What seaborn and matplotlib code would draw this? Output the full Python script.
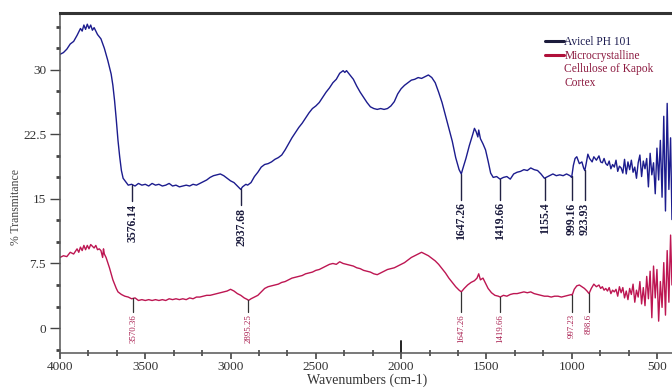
import numpy as np
import pandas as pd
import seaborn as sns
import matplotlib.pyplot as plt
from matplotlib.ticker import MultipleLocator, AutoMinorLocator

# FTIR spectra, values
avicel_wn = [4000, 3980, 3960, 3940, 3920, 3900, 3880, 3870, 3860, 3850, 3840, 3830, 3820, 3810, 3800,
             3790, 3780, 3760, 3740, 3720, 3700, 3690, 3680, 3670, 3660, 3650, 3640, 3630, 3615, 3600,
             3580, 3560, 3540, 3520, 3500, 3480, 3460, 3440, 3420, 3400, 3380, 3360, 3340, 3320, 3300,
             3280, 3260, 3240, 3220, 3200, 3180, 3160, 3140, 3120, 3100, 3080, 3060, 3040, 3020, 3000,
             2980, 2960, 2940, 2930, 2910, 2900, 2880, 2860, 2840, 2820, 2800, 2780, 2760, 2740, 2720,
             2700, 2680, 2660, 2640, 2620, 2600, 2580, 2560, 2540, 2520, 2500, 2480, 2460, 2440, 2420,
             2400, 2380, 2360, 2340, 2330, 2320, 2300, 2280, 2260, 2240, 2220, 2200, 2180, 2160, 2140,
             2120, 2100, 2080, 2060, 2040, 2020, 2000, 1980, 1960, 1940, 1920, 1900, 1880, 1860, 1840,
             1820, 1800, 1780, 1760, 1740, 1720, 1700, 1680, 1660, 1647, 1640, 1620, 1600, 1580, 1570,
             1560, 1550, 1545, 1535, 1520, 1505, 1490, 1475, 1460, 1440, 1420, 1400, 1380, 1360, 1340,
             1320, 1300, 1280, 1260, 1240, 1220, 1200, 1180, 1160, 1150, 1130, 1110, 1090, 1070, 1050,
             1030, 1010, 1000, 990, 980, 970, 955, 940, 930, 923, 915, 905, 895, 880, 870,
             855, 840, 830, 820, 810, 800, 790, 780, 770, 760, 750, 740, 730, 720, 710,
             700, 690, 680, 670, 660, 650, 640, 630, 620, 610, 600, 590, 580, 570, 560,
             550, 540, 530, 520, 510, 500, 490, 480, 470, 460, 450, 440, 430, 420, 412]
avicel_t = [31.8, 32.0, 32.4, 33.0, 33.3, 34.0, 34.8, 34.5, 35.2, 34.7, 35.3, 34.8, 35.2, 34.6, 34.9,
            34.5, 34.1, 33.6, 32.5, 31.1, 29.5, 28.2, 26.4, 24.2, 21.8, 19.9, 18.3, 17.4, 17.0, 16.6,
            16.7, 16.5, 16.8, 16.6, 16.7, 16.5, 16.8, 16.6, 16.7, 16.5, 16.6, 16.8, 16.5, 16.6, 16.4,
            16.5, 16.6, 16.5, 16.7, 16.6, 16.8, 17.0, 17.2, 17.5, 17.7, 17.8, 17.9, 17.7, 17.4, 17.1,
            16.9, 16.5, 16.1, 16.4, 16.7, 16.6, 16.9, 17.6, 18.1, 18.7, 19.0, 19.1, 19.3, 19.6, 19.8,
            20.1, 20.7, 21.4, 22.1, 22.7, 23.3, 23.8, 24.4, 25.0, 25.5, 25.8, 26.2, 26.8, 27.4, 27.9,
            28.5, 28.9, 29.6, 29.9, 29.7, 29.9, 29.4, 28.9, 28.1, 27.4, 26.8, 26.2, 25.7, 25.5, 25.4,
            25.5, 25.4, 25.5, 25.8, 26.3, 27.2, 27.8, 28.2, 28.5, 28.8, 28.9, 29.1, 29.0, 29.2, 29.4,
            29.1, 28.5, 27.4, 26.2, 24.7, 23.2, 21.7, 19.8, 18.4, 17.9, 18.4, 19.7, 21.2, 22.5, 23.2,
            22.8, 22.2, 23.0, 22.0, 21.4, 20.7, 19.4, 18.0, 17.5, 17.6, 17.3, 17.5, 17.6, 17.3, 17.9,
            18.1, 18.2, 18.4, 18.3, 18.6, 18.4, 18.3, 17.9, 17.4, 17.5, 17.7, 17.9, 17.7, 17.8, 17.7,
            17.9, 17.7, 17.5, 18.9, 19.7, 19.9, 19.1, 19.3, 18.6, 18.3, 19.1, 20.2, 19.7, 19.3, 19.9,
            19.5, 20.0, 19.3, 19.2, 19.7, 19.1, 18.9, 19.4, 18.5, 19.0, 18.7, 19.5, 18.2, 18.8, 18.6,
            18.0, 19.6, 17.9, 19.3, 18.4, 19.5, 18.1, 18.7, 17.4, 19.2, 20.1, 17.6, 19.4, 18.5, 19.7,
            16.4, 20.3, 17.8, 19.2, 15.6, 20.9, 17.2, 21.8, 15.2, 24.6, 13.6, 26.1, 16.1, 22.1, 12.6]

kapok_wn = [4000, 3980, 3960, 3940, 3920, 3900, 3890, 3880, 3870, 3860, 3850, 3840, 3830, 3820, 3800,
            3790, 3780, 3770, 3760, 3750, 3745, 3740, 3730, 3720, 3710, 3700, 3690, 3680, 3670, 3660,
            3640, 3620, 3600, 3580, 3560, 3540, 3520, 3500, 3480, 3460, 3440, 3420, 3400, 3380, 3360,
            3340, 3320, 3300, 3280, 3260, 3240, 3220, 3200, 3180, 3160, 3140, 3120, 3100, 3080, 3060,
            3040, 3020, 3000, 2980, 2960, 2940, 2920, 2900, 2895, 2880, 2860, 2840, 2820, 2800, 2780,
            2760, 2740, 2720, 2700, 2680, 2660, 2640, 2620, 2600, 2580, 2560, 2540, 2520, 2500, 2480,
            2460, 2440, 2420, 2400, 2380, 2360, 2340, 2320, 2300, 2280, 2260, 2240, 2220, 2200, 2180,
            2160, 2140, 2120, 2100, 2080, 2060, 2040, 2020, 2000, 1980, 1960, 1940, 1920, 1900, 1880,
            1860, 1840, 1820, 1800, 1780, 1760, 1740, 1720, 1700, 1680, 1660, 1647, 1630, 1610, 1590,
            1570, 1555, 1545, 1535, 1520, 1505, 1490, 1470, 1450, 1430, 1419, 1400, 1380, 1360, 1340,
            1320, 1300, 1280, 1260, 1240, 1220, 1200, 1180, 1160, 1140, 1120, 1100, 1080, 1060, 1040,
            1020, 1000, 997, 985, 970, 955, 940, 925, 910, 898, 885, 870, 855, 840, 830,
            820, 810, 800, 790, 780, 770, 760, 750, 740, 730, 720, 710, 700, 690, 680,
            670, 660, 650, 640, 630, 620, 610, 600, 590, 580, 570, 560, 550, 540, 530,
            520, 510, 500, 490, 480, 470, 460, 450, 440, 430, 420, 412]
kapok_t = [8.2, 8.4, 8.3, 8.8, 8.6, 9.2, 8.8, 9.4, 9.0, 9.6, 9.1, 9.6, 9.2, 9.7, 9.3,
           9.6, 9.1, 9.2, 9.0, 8.2, 9.2, 8.6, 8.2, 7.6, 7.0, 6.3, 5.6, 5.1, 4.6, 4.2,
           3.9, 3.7, 3.6, 3.4, 3.5, 3.2, 3.3, 3.2, 3.3, 3.2, 3.3, 3.2, 3.3, 3.2, 3.4,
           3.3, 3.4, 3.3, 3.4, 3.3, 3.5, 3.4, 3.6, 3.6, 3.7, 3.8, 3.8, 3.9, 4.0, 4.1,
           4.2, 4.3, 4.5, 4.3, 4.0, 3.8, 3.5, 3.3, 3.2, 3.4, 3.6, 3.8, 4.2, 4.6, 4.8,
           4.9, 5.0, 5.1, 5.3, 5.4, 5.6, 5.8, 5.9, 6.0, 6.1, 6.3, 6.4, 6.5, 6.7, 6.8,
           7.0, 7.2, 7.4, 7.5, 7.4, 7.7, 7.5, 7.4, 7.3, 7.2, 7.0, 6.9, 6.7, 6.6, 6.5,
           6.3, 6.2, 6.4, 6.6, 6.8, 6.9, 7.0, 7.2, 7.4, 7.6, 7.9, 8.2, 8.4, 8.6, 8.8,
           8.6, 8.4, 8.1, 7.8, 7.4, 6.9, 6.4, 5.8, 5.3, 4.8, 4.4, 4.2, 4.6, 5.0, 5.3,
           5.5, 5.8, 6.3, 5.6, 5.8, 5.2, 4.6, 4.1, 3.8, 3.7, 3.6, 3.8, 3.7, 3.9, 4.0,
           4.0, 4.1, 4.2, 4.1, 4.2, 4.0, 3.9, 3.8, 3.7, 3.7, 3.6, 3.7, 3.7, 3.6, 3.7,
           3.8, 3.9, 3.8, 4.5, 4.9, 5.0, 4.8, 4.6, 4.3, 4.0, 4.6, 5.1, 4.8, 5.0, 4.6,
           4.8, 4.4, 4.6, 4.3, 4.7, 4.0, 4.4, 4.2, 4.5, 3.7, 4.8, 4.1, 4.7, 3.5, 4.3,
           3.3, 4.6, 3.9, 5.1, 3.0, 4.4, 3.6, 5.4, 2.8, 4.7, 2.6, 6.0, 3.4, 6.6, 1.2,
           7.2, 3.5, 6.8, 0.8, 5.4, 2.4, 7.6, 1.5, 9.0, 3.0, 10.8, 5.0]

avicel_peaks = [3576.14, 2937.68, 1647.26, 1419.66, 1155.4, 999.16, 923.93]
avicel_peak_labels = ["3576.14", "2937.68", "1647.26", "1419.66", "1155.4", "999.16", "923.93"]
kapok_peaks = [3570.36, 2895.25, 1647.26, 1419.66, 997.23, 898.6]
kapok_peak_labels = ["3570.36", "2895.25", "1647.26", "1419.66", "997.23", "898.6"]

x_ticks = [4000, 3500, 3000, 2500, 2000, 1500, 1000, 500]
y_ticks = [0, 7.5, 15, 22.5, 30]
series_names = ["Avicel PH 101", "Microcrystalline"]
kapok_name_rest = "Cellulose of Kapok\nCortex"

blue = "#1c1c8e"
red = "#bd1652"

df = pd.concat([
    pd.DataFrame({"wn": avicel_wn, "T": avicel_t, "sample": series_names[0]}),
    pd.DataFrame({"wn": kapok_wn, "T": kapok_t, "sample": series_names[1]}),
])

sns.set_style("ticks")
plt.rcParams['font.family'] = ['Liberation Serif', 'DejaVu Serif']

fig = plt.figure(figsize=(6.72, 3.92), dpi=100)
ax = fig.add_axes([60 / 672, 1 - 353 / 392, 614 / 672, 340 / 392])

sns.lineplot(data=df, x="wn", y="T", hue="sample", palette=[blue, red],
             estimator=None, linewidth=1.0, ax=ax)

ax.set_xlim(4000, 400)
ax.set_ylim(-2.9, 36.6)
ax.set_xticks(x_ticks)
ax.set_xticklabels([str(t) for t in x_ticks])
ax.xaxis.set_minor_locator(AutoMinorLocator(3))
ax.set_yticks(y_ticks)
ax.set_yticklabels(["0", "7.5", "15", "22.5", "30"])
ax.yaxis.set_minor_locator(MultipleLocator(2.5))

ax.tick_params(axis='both', which='major', labelsize=9.5, colors='#444444', labelcolor='#333333')
ax.tick_params(axis='x', which='major', direction='out', length=4, width=1.2, pad=2)
ax.tick_params(axis='x', which='minor', direction='inout', length=4, width=1.2, color='#444444')
ax.tick_params(axis='y', which='major', direction='out', length=7, width=1.0, pad=3)
ax.tick_params(axis='y', which='minor', direction='out', length=3, width=2.0, color='#444444')

for side in ['left', 'bottom']:
    ax.spines[side].set_color('#555555')
    ax.spines[side].set_linewidth(1.1)
ax.spines['top'].set_visible(True)
ax.spines['top'].set_color('#333333')
ax.spines['top'].set_linewidth(2.2)
ax.spines['right'].set_visible(False)

# cursor mark at 2000
ax.axvline(2000, ymin=0, ymax=0.035, color='#222222', lw=1.4)

ax.set_xlabel("Wavenumbers (cm-1)", fontsize=10, color='#333333', labelpad=0)
ax.set_ylabel("% Transmitance", fontsize=8.5, color='#444444')
ax.yaxis.set_label_coords(-0.062, 0.43)

# peak markers
wn_a = np.array(avicel_wn)[::-1]
t_a = np.array(avicel_t)[::-1]
for p, lab in zip(avicel_peaks, avicel_peak_labels):
    yv = np.interp(p, wn_a, t_a)
    top = min(yv - 2.2, 14.6)
    ax.plot([p, p], [yv, top + 0.3], color='#222244', lw=1.0)
    ax.text(p, top, lab, rotation=90, ha='center', va='top', fontsize=8.5,
            fontweight='bold', color='#1a1a3c')

wn_k = np.array(kapok_wn)[::-1]
t_k = np.array(kapok_t)[::-1]
for p, lab in zip(kapok_peaks, kapok_peak_labels):
    yv = np.interp(p, wn_k, t_k)
    top = min(yv - 1.6, 1.6)
    ax.plot([p, p], [yv, top + 0.3], color='#333333', lw=0.9)
    ax.text(p, top, lab, rotation=90, ha='center', va='top', fontsize=6.3,
            color='#a81c4e')

leg = ax.legend(loc='upper left', bbox_to_anchor=(0.782, 0.945), frameon=False,
                fontsize=8.3, handlelength=1.7, handletextpad=0.0, labelspacing=0.15,
                borderaxespad=0)
for txt, c in zip(leg.get_texts(), ['#1c1c50', '#8c1a40']):
    txt.set_color(c)
for ln, c in zip(leg.get_lines(), ['#1c1c3c', '#b0103a']):
    ln.set_color(c)
    ln.set_linewidth(2.2)

# rest of the multi-line legend label, hung under its first line
fig.canvas.draw()
ax.annotate(kapok_name_rest, xy=(0, 0), xycoords=leg.get_texts()[1],
            xytext=(0, -0.5), textcoords='offset points', ha='left', va='top',
            fontsize=8.3, color='#8c1a40', linespacing=1.25)

fig.savefig("out.png", dpi=100)
